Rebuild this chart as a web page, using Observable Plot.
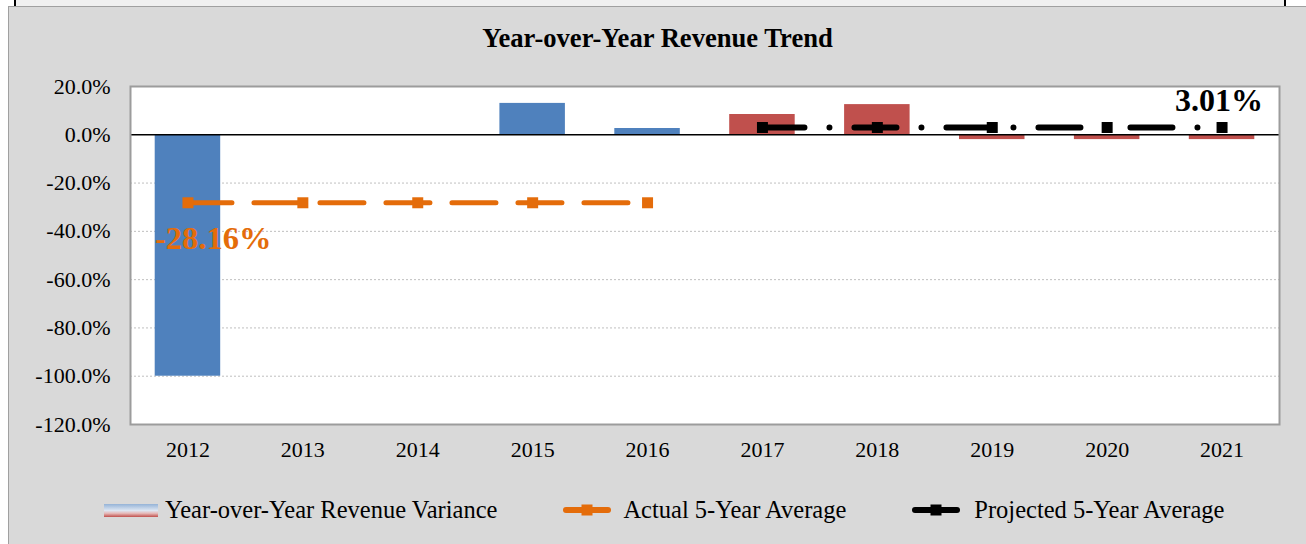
<!DOCTYPE html>
<html>
<head>
<meta charset="utf-8">
<script src="https://cdn.jsdelivr.net/npm/d3@7"></script>
<script src="https://cdn.jsdelivr.net/npm/@observablehq/plot@0.6"></script>
<style>
  html, body { margin: 0; padding: 0; background: #fff; }
  #wrap { position: relative; width: 1306px; height: 544px; overflow: hidden; font-family: "Liberation Serif", serif; }
  #strip { position: absolute; left: 14px; top: 0; width: 1268px; height: 7px; background: #f0f0f0; border-left: 2px solid #000; border-right: 2px solid #000; }
  #box { position: absolute; left: 8px; top: 6px; right: -4px; bottom: -4px; background: #d9d9d9; border: 1.5px solid #a0a0a0; }
  #title { position: absolute; left: 0; width: 1315px; top: 23px; text-align: center; font-weight: bold; font-size: 26.6px; color: #000; }
  #chart { position: absolute; left: 0; top: 0; }
  #legend { position: absolute; left: 104px; top: 496px; display: flex; align-items: center; font-size: 24.5px; color: #000; white-space: nowrap; }
  #legend .item { display: flex; align-items: center; }
  #legend svg { display: block; }
</style>
</head>
<body>
<div id="wrap">
  <div id="strip"></div>
  <div id="box"></div>
  <div id="title">Year-over-Year Revenue Trend</div>
  <div id="chart"></div>
  <div id="legend"></div>
</div>
<script>
// ---- data ----
const years = ["2012", "2013", "2014", "2015", "2016", "2017", "2018", "2019", "2020", "2021"];
const variance = [-100, 0, 0, 13.0, 2.6, 8.4, 12.5, -2.0, -2.0, -2.0];
const period = ["Actual", "Actual", "Actual", "Actual", "Actual", "Projected", "Projected", "Projected", "Projected", "Projected"];
const actualYears = ["2012", "2013", "2014", "2015", "2016"];
const actualAvg = [-28.16, -28.16, -28.16, -28.16, -28.16];
const projectedYears = ["2017", "2018", "2019", "2020", "2021"];
const projectedAvg = [3.01, 3.01, 3.01, 3.01, 3.01];
const yTicks = [20, 0, -20, -40, -60, -80, -100, -120];
const gridTicks = [-20, -40, -60, -80, -100];
const legendLabels = ["Year-over-Year Revenue Variance", "Actual 5-Year Average", "Projected 5-Year Average"];
const actualLabel = "-28.16%";
const projectedLabel = "3.01%";

// ---- tables ----
const bars = years.map((y, i) => ({year: y, value: variance[i], period: period[i]}));
const actual = actualYears.map((y, i) => ({year: y, value: actualAvg[i]}));
const projected = projectedYears.map((y, i) => ({year: y, value: projectedAvg[i]}));

const BLUE = "#4f81bd", RED = "#c0504d", ORANGE = "#e46c0a", BLACK = "#000000";
const sq = 11 / Math.sqrt(Math.PI);

const chart = Plot.plot({
  width: 1306,
  height: 460,
  marginLeft: 130,
  marginRight: 27,
  marginTop: 86,
  marginBottom: 36,
  style: {background: "transparent", fontFamily: "'Liberation Serif', serif", fontSize: "22px", color: "#000", overflow: "visible"},
  x: {domain: years, paddingInner: 0.43, paddingOuter: 0.215, round: false, label: null},
  y: {domain: [-120, 20], label: null},
  color: {domain: ["Actual", "Projected"], range: [BLUE, RED]},
  marks: [
    Plot.frame({fill: "white", stroke: null}),
    Plot.ruleY(gridTicks, {stroke: "#bfbfbf", strokeDasharray: "2,2", strokeWidth: 1}),
    Plot.barY(bars, {x: "year", y: "value", fill: "period"}),
    Plot.ruleY([0], {stroke: "#000", strokeWidth: 1.5}),
    Plot.frame({stroke: "#9c9c9c", strokeWidth: 2}),
    Plot.line(actual, {x: "year", y: "value", stroke: ORANGE, strokeWidth: 5, strokeDasharray: "44,22", strokeLinecap: "round"}),
    Plot.dot(actual, {x: "year", y: "value", symbol: "square", r: sq, fill: ORANGE, stroke: null}),
    Plot.line(projected, {x: "year", y: "value", stroke: BLACK, strokeWidth: 6, strokeDasharray: "42,25,0,25", strokeLinecap: "round"}),
    Plot.dot(projected, {x: "year", y: "value", symbol: "square", r: sq, fill: BLACK, stroke: null}),
    Plot.text([actual[0]], {x: "year", y: "value", text: () => actualLabel, fill: ORANGE, fontWeight: "bold", fontSize: 32.5, textAnchor: "start", dx: -33, dy: 36}),
    Plot.text([projected[projected.length - 1]], {x: "year", y: "value", text: () => projectedLabel, fill: BLACK, fontWeight: "bold", fontSize: 32, textAnchor: "end", dx: 41, dy: -27}),
    Plot.axisX({tickSize: 0, tickPadding: 17, label: null, fontSize: 22}),
    Plot.axisY({ticks: yTicks, tickFormat: d => d.toFixed(1) + "%", tickSize: 0, tickPadding: 20, label: null, fontSize: 22})
  ]
});
document.getElementById("chart").appendChild(chart);

// ---- legend ----
const legend = document.getElementById("legend");
function item(swatchSvg, label, gapBefore, gapAfter) {
  const el = document.createElement("div");
  el.className = "item";
  el.style.marginLeft = gapBefore + "px";
  el.innerHTML = swatchSvg + `<span style="margin-left:${gapAfter}px">${label}</span>`;
  legend.appendChild(el);
}
const gradSwatch = `<svg width="54" height="13"><defs><linearGradient id="g" x1="0" y1="0" x2="0" y2="1">
  <stop offset="0" stop-color="#95b3d7"/><stop offset="0.5" stop-color="#dde6f2"/><stop offset="0.72" stop-color="#e6b9b8"/><stop offset="1" stop-color="#c0504d"/></linearGradient></defs>
  <rect x="0" y="0" width="54" height="13" fill="url(#g)"/></svg>`;
function lineSwatch(color) {
  return `<svg width="48" height="14"><line x1="3" x2="45" y1="7" y2="7" stroke="${color}" stroke-width="6" stroke-linecap="round"/><rect x="18.5" y="1.5" width="11" height="11" fill="${color}"/></svg>`;
}
item(gradSwatch, legendLabels[0], 0, 7);
item(lineSwatch(ORANGE), legendLabels[1], 66, 12);
item(lineSwatch(BLACK), legendLabels[2], 66, 14);
</script>
</body>
</html>
